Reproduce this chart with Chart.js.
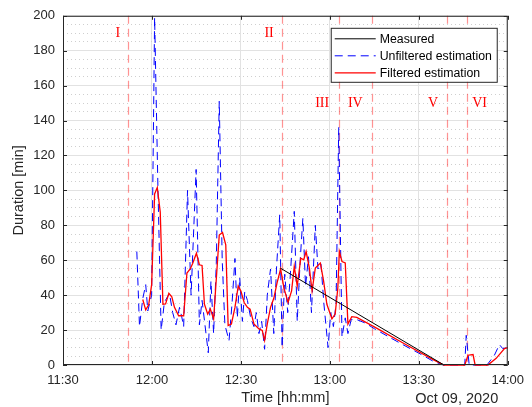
<!DOCTYPE html>
<html>
<head>
<meta charset="utf-8">
<script src="https://cdn.jsdelivr.net/npm/chart.js@4.4.1/dist/chart.umd.min.js"></script>
<style>
  html, body { margin: 0; padding: 0; background: #fff; }
  #wrap { width: 532px; height: 407px; }
</style>
</head>
<body>
<div id="wrap"><canvas id="durationChart" width="532" height="407"></canvas></div>
<script>
// time is minutes after 11:30 (Oct 09, 2020), values in minutes
const measuredTime = [73.3, 128.5];
const measuredMin = [55.5, 0];

const unfilteredTime = [24.9, 25.8, 26.9, 27.9, 28.6, 29.9, 30.9, 32.0, 33.1, 34.2,
  35.9, 37.0, 38.1, 39.3, 40.0, 40.7, 42.0, 43.2, 44.9, 46.0,
  46.9, 49.0, 49.9, 50.8, 51.7, 52.7, 53.7, 54.6, 56.0, 57.0,
  58.0, 58.8, 59.6, 60.5, 61.3, 62.2, 63.3, 64.4, 65.2, 66.1,
  67.0, 68.0, 68.9, 70.0, 71.1, 72.0, 73.1, 73.9, 74.8, 75.8,
  76.8, 78.0, 79.0, 80.0, 80.9, 81.8, 82.8, 83.8, 85.1, 86.0,
  87.0, 88.0, 89.4, 90.3, 91.2, 92.1, 93.0, 94.1, 95.2, 96.1,
  97.2, 99.1, 102, 105, 110, 115, 120, 125, 128.3, 135.5,
  136.0, 137.0, 143.0, 145.5, 147.2, 148.3, 150];
const unfilteredMin = [65, 22, 38, 46, 31, 40, 199, 103, 20, 36,
  41, 30, 23, 33, 28, 22, 100, 40, 112, 23,
  37, 7, 48, 18, 58, 151, 60, 23, 14, 35,
  61, 27, 50, 25, 42, 37, 27, 22, 30, 18,
  25, 9, 40, 55, 18, 55, 86, 10, 52, 30,
  55, 88, 25, 60, 84, 45, 62, 30, 80, 55,
  58, 35, 10, 30, 22, 35, 136, 16, 27, 18,
  26, 26, 24, 20.8, 16, 11.3, 6.8, 2, 0, 0,
  17, 0, 0, 5.6, 11.7, 9.4, 10];

const filteredTime = [26.9, 27.9, 28.9, 29.9, 30.9, 31.8, 32.8, 33.7, 34.6, 35.7,
  36.7, 37.6, 39.0, 40.7, 41.8, 42.9, 43.7, 45.0, 46.0, 46.9,
  47.7, 48.8, 49.7, 50.8, 52.7, 53.8, 54.9, 55.7, 56.8, 58.0,
  59.1, 60.0, 61.1, 62.2, 63.1, 64.4, 66.1, 67.2, 68.0, 68.9,
  70.0, 71.1, 72.2, 73.4, 74.5, 75.9, 77.1, 78.0, 79.0, 80.2,
  81.2, 82.0, 83.1, 84.0, 85.1, 86.8, 87.9, 89.0, 90.7, 91.8,
  92.7, 93.2, 94.1, 95.2, 96.1, 97.4, 99.1, 105, 115, 125,
  128.5, 135.5, 136.6, 138.3, 139.0, 143.3, 146.1, 148.9, 150];
const filteredMin = [37.5, 31.6, 34.5, 46, 98, 101.7, 87.6, 34.8, 35, 41,
  39, 33, 28.2, 28.2, 52.7, 55, 58, 64, 57.4, 57,
  34.8, 29.2, 32, 26.4, 74.4, 75.9, 68.8, 22.6, 23.5, 33,
  45.2, 42.4, 35.8, 33, 32, 23.5, 20.7, 19.8, 14.1, 23.5,
  33, 38.2, 47, 55, 44.2, 35.8, 42.4, 56.5, 45.2, 61.2,
  60.3, 65, 55.5, 42.4, 55.5, 58.4, 48, 34.8, 26.4, 29.2,
  44.2, 65, 59.3, 58.4, 23.5, 27.7, 27.3, 21.8, 12.3, 2.9,
  0, 0, 5.6, 6, 0, 0, 3.8, 9.4, 10];

// phase boundaries and their roman labels
const phaseTime = [21.9, 73.9, 93.2, 104.3, 129.4, 136.3];
const phaseLabels = ["I", "II", "III", "IV", "V", "VI"];
const phaseLabelTime = [18.5, 69.5, 87.4, 98.6, 124.8, 140.5];
const phaseLabelMin = [190, 190, 150, 150, 150, 150];

const dateLabel = "Oct 09, 2020";
const legendOrder = ["Measured", "Unfiltered estimation", "Filtered estimation"];

const axisColor = "#262626";
const sans = "'Liberation Sans', Arial, sans-serif";

function toPoints(ts, vs) {
  return ts.map((t, i) => ({ x: t, y: vs[i] }));
}

function hhmm(v) {
  const total = 11 * 60 + 30 + v;
  const h = Math.floor(total / 60);
  const m = total % 60;
  return h + ":" + String(m).padStart(2, "0");
}

const matlabFrame = {
  id: "matlabFrame",
  beforeDatasetsDraw(chart) {
    const { ctx, chartArea, scales } = chart;
    ctx.save();
    ctx.strokeStyle = "rgba(255, 40, 40, 0.5)";
    ctx.lineWidth = 1.2;
    ctx.setLineDash([8, 5]);
    phaseTime.forEach((t) => {
      const x = Math.round(scales.x.getPixelForValue(t)) + 0.5;
      ctx.beginPath();
      ctx.moveTo(x, chartArea.top);
      ctx.lineTo(x, chartArea.bottom);
      ctx.stroke();
    });
    ctx.restore();
  },
  afterDatasetsDraw(chart) {
    const { ctx, chartArea, scales } = chart;
    const { left, right, top, bottom } = chartArea;

    // roman phase labels
    ctx.save();
    ctx.fillStyle = "#ff0000";
    ctx.font = "14px 'Liberation Serif', 'Times New Roman', serif";
    ctx.textAlign = "center";
    ctx.textBaseline = "middle";
    phaseLabels.forEach((lab, i) => {
      ctx.fillText(lab, scales.x.getPixelForValue(phaseLabelTime[i]),
        scales.y.getPixelForValue(phaseLabelMin[i]));
    });
    ctx.restore();

    // box and inward ticks
    ctx.save();
    ctx.strokeStyle = axisColor;
    ctx.lineWidth = 1;
    ctx.strokeRect(left + 0.5, top + 0.5, right - left - 1, bottom - top - 1);
    ctx.beginPath();
    scales.y.ticks.forEach((tk) => {
      if (tk.value % 20 !== 0) return;
      const y = Math.round(scales.y.getPixelForValue(tk.value)) + 0.5;
      ctx.moveTo(left, y); ctx.lineTo(left + 4, y);
      ctx.moveTo(right, y); ctx.lineTo(right - 4, y);
    });
    scales.x.ticks.forEach((tk) => {
      const x = Math.round(scales.x.getPixelForValue(tk.value)) + 0.5;
      ctx.moveTo(x, bottom); ctx.lineTo(x, bottom - 4);
      ctx.moveTo(x, top); ctx.lineTo(x, top + 4);
    });
    ctx.stroke();
    ctx.restore();

    // legend box
    const bx = right - 177, by = top + 12, bw = 166, bh = 54;
    ctx.save();
    ctx.fillStyle = "#fff";
    ctx.fillRect(bx, by, bw, bh);
    ctx.strokeStyle = axisColor;
    ctx.lineWidth = 1;
    ctx.strokeRect(bx + 0.5, by + 0.5, bw, bh);
    ctx.font = "12.3px " + sans;
    ctx.textBaseline = "middle";
    ctx.textAlign = "left";
    legendOrder.forEach((name, i) => {
      const ds = chart.data.datasets.find((d) => d.label === name);
      const y = by + 11 + i * 17;
      ctx.strokeStyle = ds.borderColor;
      ctx.lineWidth = ds.borderWidth;
      ctx.setLineDash(ds.borderDash || []);
      ctx.beginPath();
      ctx.moveTo(bx + 4, y);
      ctx.lineTo(bx + 45, y);
      ctx.stroke();
      ctx.setLineDash([]);
      ctx.fillStyle = "#000";
      ctx.fillText(name, bx + 49, y + 0.5);
    });
    ctx.restore();

    // date under the axis
    ctx.save();
    ctx.fillStyle = axisColor;
    ctx.font = "14.5px " + sans;
    ctx.textAlign = "center";
    ctx.textBaseline = "middle";
    ctx.fillText(dateLabel, right - 51, 398.5);
    ctx.restore();
  }
};

const ctx = document.getElementById("durationChart");
const durationChart = new Chart(ctx, {
  type: "line",
  data: {
    datasets: [
      {
        label: "Measured",
        data: toPoints(measuredTime, measuredMin),
        borderColor: "#000000",
        borderWidth: 1,
        clip: 2,
      },
      {
        label: "Filtered estimation",
        data: toPoints(filteredTime, filteredMin),
        borderColor: "#ff0000",
        borderWidth: 1.3,
        clip: 2,
      },
      {
        label: "Unfiltered estimation",
        data: toPoints(unfilteredTime, unfilteredMin),
        borderColor: "#0000ff",
        borderWidth: 1,
        borderDash: [8, 5],
        clip: 2,
      },
    ],
  },
  options: {
    responsive: false,
    animation: false,
    layout: { padding: { left: 0, right: 22, top: 11, bottom: 0 } },
    elements: { point: { radius: 0 }, line: { tension: 0 } },
    plugins: { legend: { display: false }, tooltip: { enabled: false } },
    scales: {
      x: {
        type: "linear",
        min: 0,
        max: 150,
        afterFit: (s) => { s.height = 42; },
        ticks: {
          stepSize: 30,
          callback: (v) => hhmm(v),
          color: axisColor,
          font: { family: sans, size: 13 },
          padding: 8,
          maxRotation: 0,
        },
        grid: { color: "#e2e2e2", drawTicks: false },
        border: { display: false },
        title: {
          display: true,
          text: "Time [hh:mm]",
          color: axisColor,
          font: { family: sans, size: 14.5 },
          padding: { top: 0, bottom: 0 },
        },
      },
      y: {
        min: 0,
        max: 200,
        afterFit: (s) => { s.width = 63; },
        ticks: {
          stepSize: 5,
          autoSkip: false,
          callback: (v) => (v % 20 === 0 ? v : ""),
          color: axisColor,
          font: { family: sans, size: 13 },
          padding: 8,
        },
        grid: {
          drawTicks: false,
          color: (c) => (c.tick && c.tick.value % 20 === 0 ? "#e2e2e2" : "#cfcfcf"),
        },
        border: {
          display: false,
          dash: (c) => (c.tick && c.tick.value % 20 !== 0 ? [1, 3] : []),
        },
        title: {
          display: true,
          text: "Duration [min]",
          color: axisColor,
          font: { family: sans, size: 14.5 },
          padding: { top: 10, bottom: 0 },
        },
      },
    },
  },
  plugins: [matlabFrame],
});
</script>
</body>
</html>
